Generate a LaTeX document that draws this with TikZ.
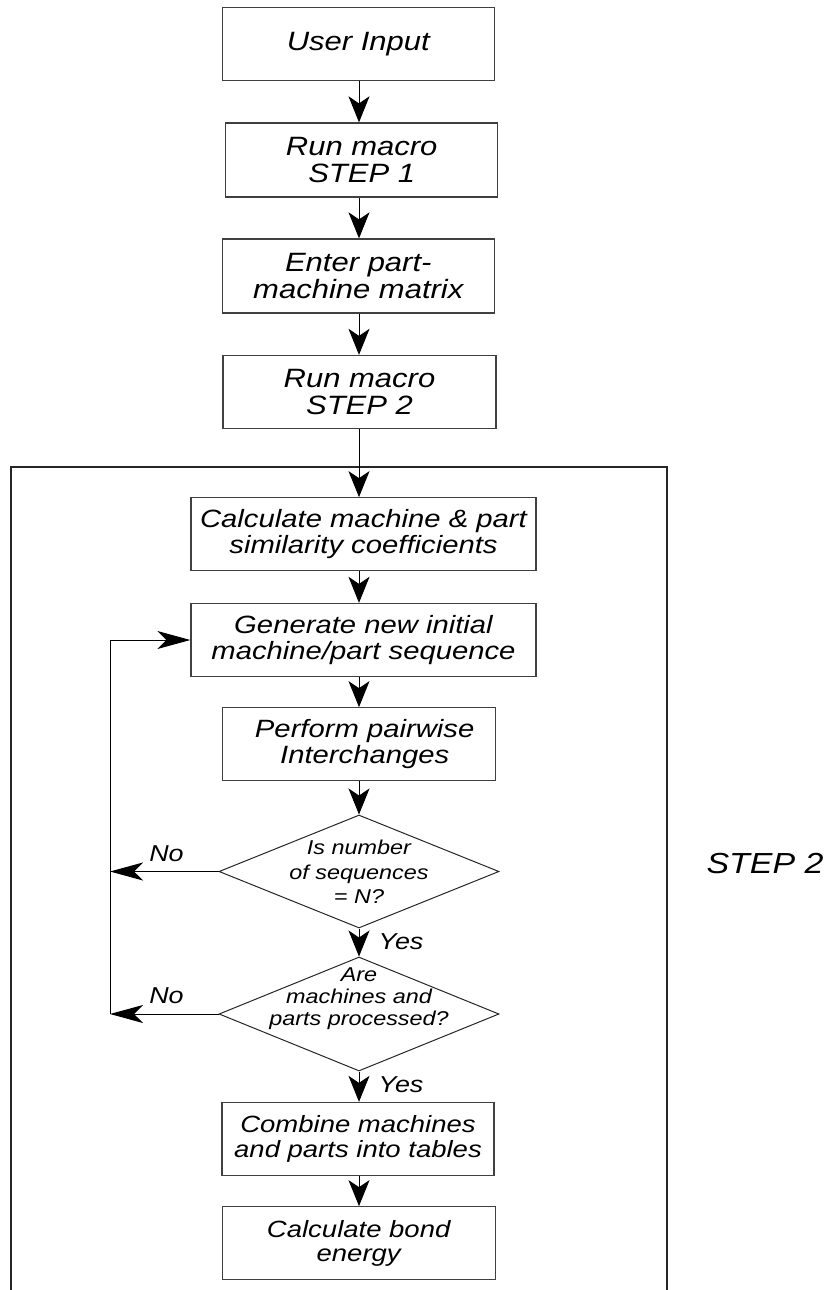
\documentclass[tikz,border=0pt]{standalone}
\usepackage{fontspec}
\setmainfont{Liberation Sans}[FakeStretch=1.17]
\usetikzlibrary{arrows.meta,shapes.geometric}
\begin{document}
\begin{tikzpicture}[x=1pt,y=-1pt,
  box/.style={draw=black!75,line width=1.3pt,rectangle,align=center,inner sep=0pt},
  fa/.style={font=\itshape\fontsize{26.5}{27.5}\selectfont},
  fb/.style={font=\itshape\fontsize{25}{26}\selectfont},
  fc/.style={font=\itshape\fontsize{23.5}{24.5}\selectfont},
  dec/.style={draw=black!85,line width=1pt,diamond,inner sep=0pt},
  dtext/.style={align=center,inner sep=0pt},
  lbl/.style={inner sep=0pt,font=\itshape\fontsize{23}{24}\selectfont},
  varr/.style={draw=black,line width=1pt,-{Stealth[length=26pt,width=21pt,inset=7pt]}},
  harr/.style={draw=black,line width=1pt,-{Stealth[length=33pt,width=18pt,inset=9pt]}},
  frame/.style={draw=black!85,line width=1.2pt}
]
\useasboundingbox (0,0) rectangle (835,1290);
\coordinate (ax) at (359,0);

% outer frame of STEP 2
\coordinate (fbl) at (11,1290);
\coordinate (ftl) at (11,467);
\coordinate (ftr) at (667,467);
\coordinate (fbr) at (667,1290);
\draw[frame] (fbl) -- (ftl) -- (ftr) -- (fbr);
\node[inner sep=0pt,font=\itshape\fontsize{29}{30}\selectfont] (steplbl) at (765,864) {STEP 2};

% boxes
\node[box,fa,minimum width=272pt,minimum height=73pt] (u) at (358.3,43.8) {User Input};
\node[box,fa,minimum width=272pt,minimum height=74pt] (r1) at (361.7,160) {Run macro\\STEP 1};
\node[box,fa,minimum width=272pt,minimum height=74pt] (e) at (358.3,276) {Enter part-\\machine matrix};
\node[box,fa,minimum width=273pt,minimum height=73pt] (r2) at (359.5,392) {Run macro\\STEP 2};
\node[box,fb,minimum width=345pt,minimum height=73pt] (calc) at (363.5,534.3) {Calculate machine \& part\\similarity coefficients};
\node[box,fb,minimum width=345pt,minimum height=73pt] (gen) at (363.5,640) {Generate new initial\\machine/part sequence};
\node[box,fb,minimum width=273pt,minimum height=73pt] (perf) at (358.7,744.3) {\hspace*{12pt}Perform pairwise\\\hspace*{12pt}Interchanges};
\node[box,fc,minimum width=272pt,minimum height=73pt] (comb) at (358,1139) {Combine machines\\and parts into tables};
\node[box,fc,minimum width=273pt,minimum height=73pt] (bond) at (358.7,1243.3) {Calculate bond\\energy};

% decisions
\node[dec,minimum width=280pt,minimum height=113pt] (d1) at (359,871.5) {};
\node[dtext,font=\itshape\fontsize{20}{24.5}\selectfont] (d1t) at (359,872) {Is number\\of sequences\\= N?};
\node[dec,minimum width=280pt,minimum height=114pt] (d2) at (359,1014) {};
\node[dtext,font=\itshape\fontsize{20}{22}\selectfont] (d2t) at (359,999) {Are\\machines and\\parts processed?};

% main flow
\draw[varr] (u.south -| ax) -- (r1.north -| ax);
\draw[varr] (r1.south -| ax) -- (e.north -| ax);
\draw[varr] (e.south -| ax) -- (r2.north -| ax);
\draw[varr] (r2.south -| ax) -- (calc.north -| ax);
\draw[varr] (calc.south -| ax) -- (gen.north -| ax);
\draw[varr] (gen.south -| ax) -- (perf.north -| ax);
\draw[varr] (perf.south -| ax) -- (d1.north);
\draw[varr] (d1.south) -- (d2.north);
\draw[varr] (d2.south) -- (comb.north -| ax);
\draw[varr] (comb.south -| ax) -- (bond.north -| ax);

% loop back
\coordinate (lt) at (110,640);
\coordinate (l1) at (110,871.5);
\coordinate (l2) at (110,1014);
\draw[harr] (d1.west) -- (l1);
\draw[harr] (d2.west) -- (l2);
\draw[harr] (l2) -- (lt) -- (gen.west);

% labels
\node[lbl] (no1) at (166.5,854) {No};
\node[lbl] (no2) at (166.5,996) {No};
\node[lbl] (yes1) at (401,941.5) {Yes};
\node[lbl] (yes2) at (401,1084.5) {Yes};
\end{tikzpicture}
\end{document}
